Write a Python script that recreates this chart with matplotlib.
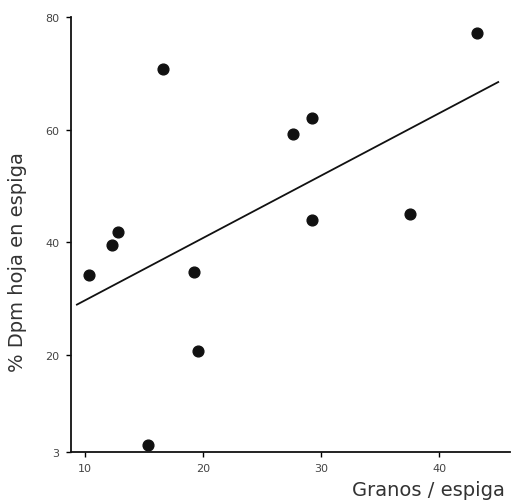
import matplotlib.pyplot as plt

# Granos/espiga vs % Dpm hoja en espiga
granos = [10.3, 12.3, 12.8, 16.6, 15.3, 19.2, 19.6, 27.6, 29.2, 29.2, 37.5, 43.2]
dpm = [34.2, 39.6, 41.9, 70.7, 4.2, 34.7, 20.8, 59.2, 62.0, 43.9, 45.0, 77.1]

# regression line end points
fit_x = [9.3, 45.0]
fit_y = [29.0, 68.4]

xticks = [10, 20, 30, 40]
yticks = [3, 20, 40, 60, 80]

fig = plt.figure(figsize=(5.13, 5.02), dpi=100)
ax = fig.add_axes([0.1384, 0.0986, 0.8558, 0.8665])

ax.scatter(granos, dpm, s=60, color='#111111', zorder=3)
ax.plot(fit_x, fit_y, color='#111111', lw=1.3)

ax.set_xlim(8.8, 46)
ax.set_ylim(3, 80)
ax.set_xticks(xticks)
ax.set_yticks(yticks)

for s in ['top', 'right']:
    ax.spines[s].set_visible(False)
for s in ['left', 'bottom']:
    ax.spines[s].set_linewidth(1.3)
    ax.spines[s].set_color('#111111')

ax.tick_params(direction='out', length=3.5, width=1, labelsize=8,
               labelcolor='#444444', pad=5)

fig.text(0.035, 0.478, '% Dpm hoja en espiga', rotation=90, ha='center',
         va='center', fontsize=14, color='#333333')
fig.text(0.985, 0.022, 'Granos / espiga', ha='right', va='center',
         fontsize=14, color='#333333')

fig.savefig('out.png', dpi=100)
